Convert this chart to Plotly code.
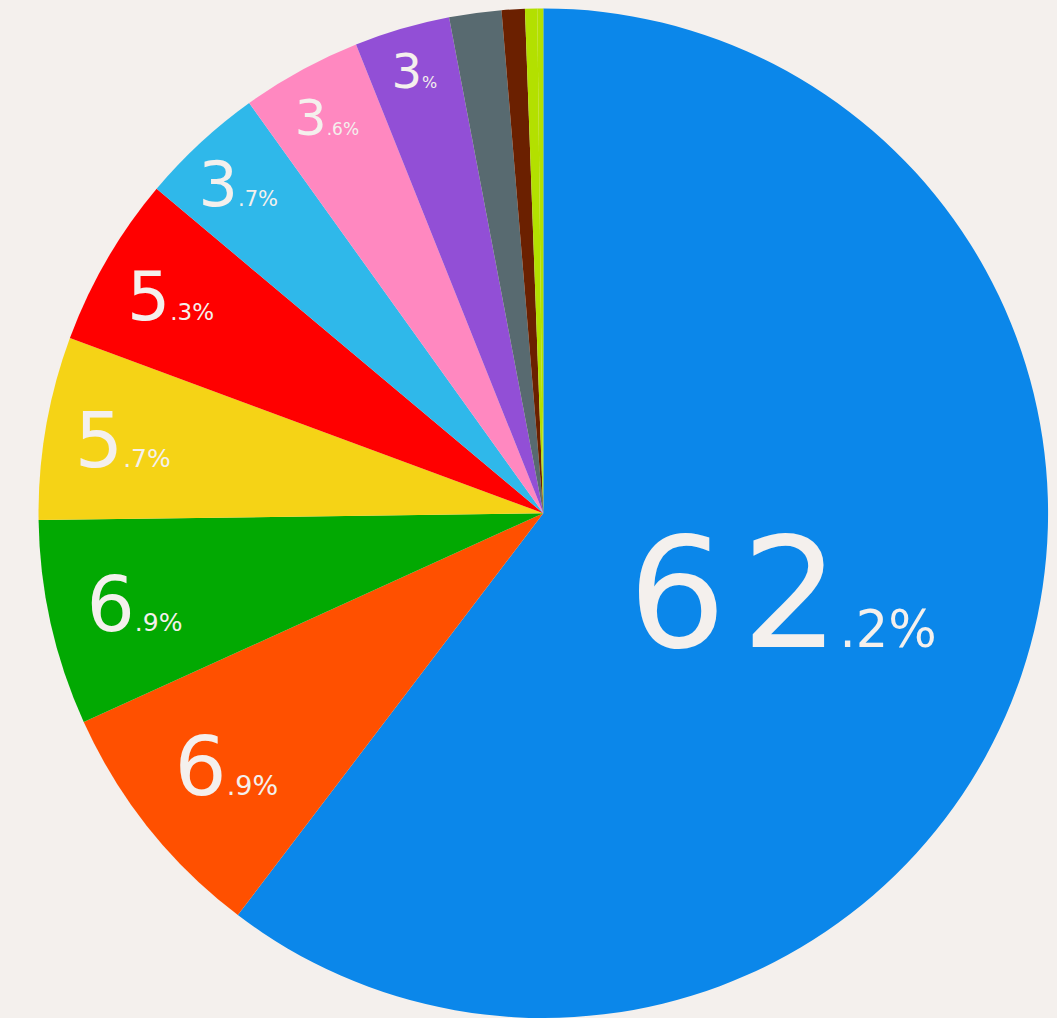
import plotly.graph_objects as go

# slice shares (percent of the circle)
values = [60.35, 7.87, 6.57, 5.86, 5.47, 3.99, 3.85, 3.06, 1.67, 0.74, 0.39, 0.19]
# displayed labels: integer part and decimal part
label_int = ["62", "6", "6", "5", "5", "3", "3", "3", "", "", "", ""]
label_dec = [".2%", ".9%", ".9%", ".7%", ".3%", ".7%", ".6%", "%", "", "", "", ""]
big_sizes = [154, 82, 76, 76, 68, 62, 50, 48, 10, 10, 10, 10]
colors = ["#0b87ea", "#ff5000", "#02a902", "#f5d316", "#ff0000", "#2fb8ea",
          "#ff88c0", "#924fd6", "#586a70", "#6b2000", "#b3e000", "#b3e000"]

BG = "#f4f0ed"


def make_label(i, d, s):
    if not i:
        return ""
    head = ""
    if len(i) > 1:
        head = f"<span style='letter-spacing:0.1em'>{i[:-1]}</span>"
    return head + i[-1] + f"<span style='font-size:{round(s / 3)}px'>{d}</span>"


texts = [make_label(i, d, s) for i, d, s in zip(label_int, label_dec, big_sizes)]

fig = go.Figure(go.Pie(
    values=values,
    text=texts,
    textinfo="text",
    textposition="inside",
    insidetextorientation="horizontal",
    insidetextfont=dict(size=big_sizes, color=BG, family="DejaVu Sans"),
    marker=dict(colors=colors, line=dict(width=0)),
    sort=False,
    direction="clockwise",
    rotation=0,
    hoverinfo="none",
    domain=dict(x=[0.0362, 0.9918], y=[0.0, 0.9917]),
))

fig.update_layout(
    width=1057, height=1018,
    margin=dict(l=0, r=0, t=0, b=0),
    paper_bgcolor=BG,
    plot_bgcolor=BG,
    showlegend=False,
)

fig.write_html(
    "out.html",
    config={"displayModeBar": False},
    post_script="document.body.style.margin='0';document.body.style.background='#f4f0ed';"
                "document.documentElement.style.overflow='hidden';",
)
